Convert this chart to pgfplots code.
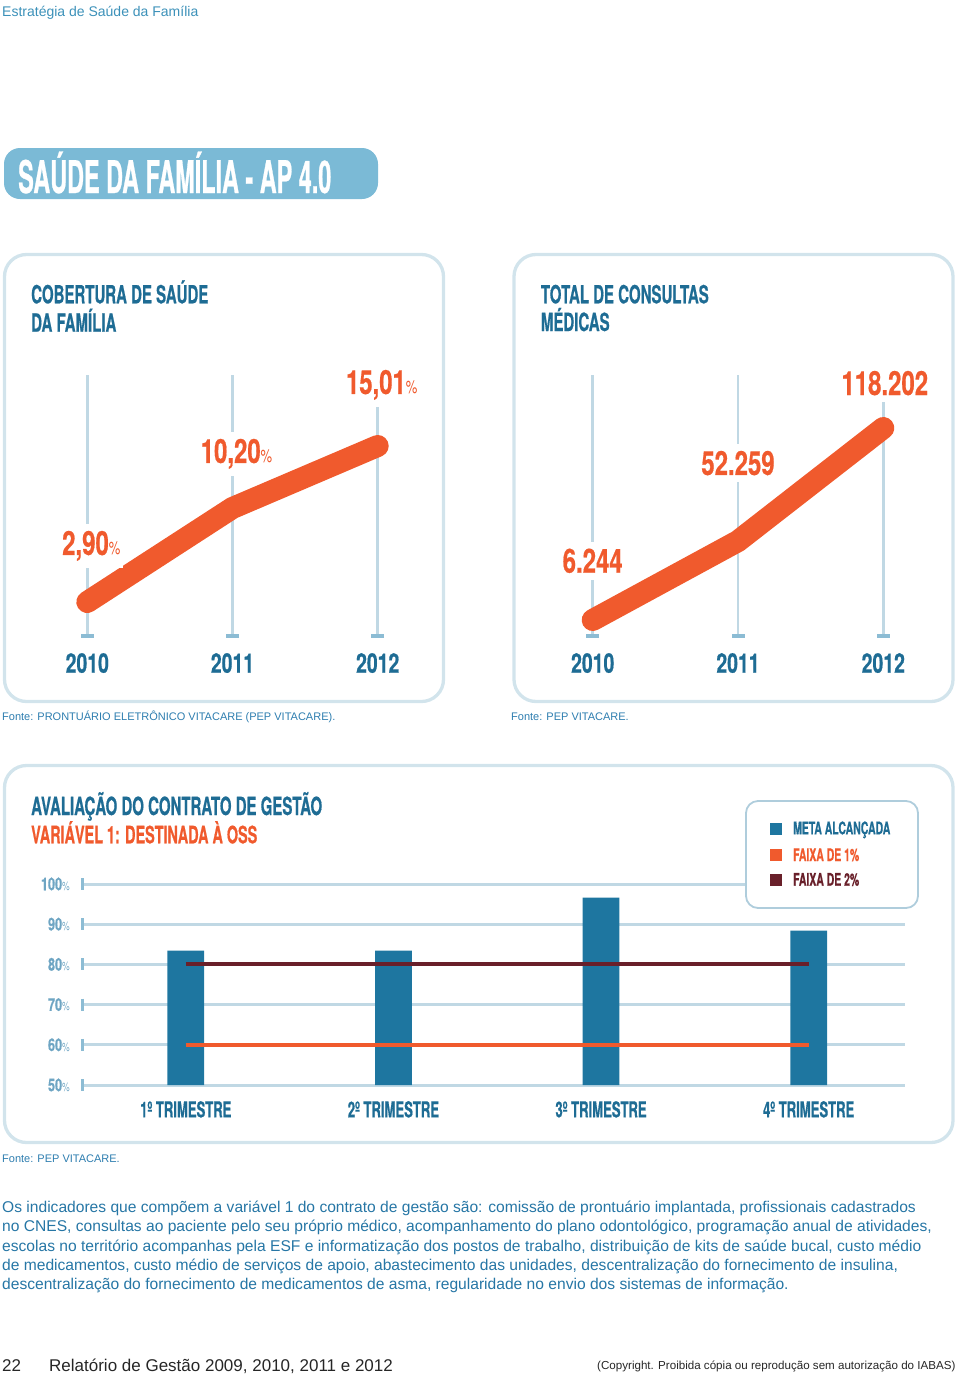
\documentclass[border=0pt]{standalone}
\usepackage{fontspec}
\usepackage{pgfplots}
\pgfplotsset{compat=1.18}
\setmainfont{Liberation Sans}
\newfontfamily\hd{texgyreheros-bold.otf}[FakeStretch=0.6,FakeBold=0.6]
\newfontfamily\hb{texgyreheros-bold.otf}[FakeStretch=0.52,FakeBold=0.6]
\newfontfamily\hn{texgyreheros-bold.otf}[FakeStretch=0.72,FakeBold=0.5]
\newfontfamily\hr{texgyreheros-regular.otf}[FakeStretch=0.72]
\definecolor{orangec}{RGB}{240,90,45}
\definecolor{titleblue}{RGB}{30,108,148}
\definecolor{barblue}{RGB}{30,118,160}
\definecolor{maroon}{RGB}{105,32,42}
\definecolor{gridc}{RGB}{192,216,228}
\definecolor{capc}{RGB}{140,188,212}
\definecolor{boxc}{RGB}{210,228,236}
\definecolor{legc}{RGB}{175,205,220}
\definecolor{bannerc}{RGB}{123,186,214}
\definecolor{lblue}{RGB}{110,165,195}
\definecolor{bodyc}{RGB}{38,118,165}
\definecolor{headc}{RGB}{60,145,185}
\definecolor{fontec}{RGB}{45,125,175}
\newcommand\pct{{\hr\fontsize{18}{18}\selectfont\%}}
\newcommand\spct{{\hr\fontsize{12}{12}\selectfont\%}}
\tikzset{lbl/.style={anchor=base, fill=white, inner xsep=3pt, inner ysep=7pt, font=\hn\fontsize{33.3}{33}\selectfont, text=orangec}}
\begin{document}
\begin{tikzpicture}[x=1pt,y=1pt]
\path[use as bounding box] (0,0) rectangle (960,-1376);
% header
\node[anchor=base west, inner sep=0, font=\fontsize{14}{16}\selectfont, text=headc] at (2,-16) {Estratégia de Saúde da Família};
% banner
\fill[bannerc, rounded corners=16pt] (4,-148) rectangle (378,-199);
\node[anchor=base west, inner sep=0, font=\hb\fontsize{45}{45}\selectfont, text=white] at (18,-193) {SAÚDE DA FAMÍLIA - AP 4.0};
% boxes
\draw[boxc, line width=3.3pt, rounded corners=22pt] (4.5,-254.5) rectangle (443.5,-701.5);
\draw[boxc, line width=3.3pt, rounded corners=22pt] (514,-254.5) rectangle (953,-701.5);
\draw[boxc, line width=3.3pt, rounded corners=22pt] (4.5,-765.5) rectangle (953,-1142.5);
% titles
\node[anchor=base west, inner sep=0, font=\hd\fontsize{25}{25}\selectfont, text=titleblue] at (31,-303.3) {COBERTURA DE SAÚDE};
\node[anchor=base west, inner sep=0, font=\hd\fontsize{25}{25}\selectfont, text=titleblue] at (31,-331.7) {DA FAMÍLIA};
\node[anchor=base west, inner sep=0, font=\hd\fontsize{25}{25}\selectfont, text=titleblue] at (540.7,-303.3) {TOTAL DE CONSULTAS};
\node[anchor=base west, inner sep=0, font=\hd\fontsize{25}{25}\selectfont, text=titleblue] at (540.7,-331) {MÉDICAS};
\node[anchor=base west, inner sep=0, font=\hd\fontsize{25}{25}\selectfont, text=titleblue] at (31,-815) {AVALIAÇÃO DO CONTRATO DE GESTÃO};
\node[anchor=base west, inner sep=0, font=\hd\fontsize{24}{24}\selectfont, text=orangec] at (31,-843.3) {VARIÁVEL 1: DESTINADA À OSS};
% fonte
\node[anchor=base west, inner sep=0, font=\fontsize{11}{13}\selectfont, text=fontec] at (2,-720.5) {Fonte: PRONTUÁRIO ELETRÔNICO VITACARE (PEP VITACARE).};
\node[anchor=base west, inner sep=0, font=\fontsize{11}{13}\selectfont, text=fontec] at (511,-720.5) {Fonte: PEP VITACARE.};
\node[anchor=base west, inner sep=0, font=\fontsize{11}{13}\selectfont, text=fontec] at (2,-1162) {Fonte: PEP VITACARE.};

% ---------- chart 1 ----------
\begin{axis}[
 scale only axis, width=290.4pt, height=261pt,
 at={(87.3pt,-636pt)}, anchor=south west,
 xmin=2010, xmax=2012, ymin=0.26, ymax=20.52,
 clip=false, axis line style={draw=none}, major tick length=0pt,
 xtick={2010,2011,2012}, xticklabels={2010,2011,2012}, ytick=\empty,
 xmajorgrids, major grid style={gridc, line width=2.5pt},
 xticklabel style={font=\hn\fontsize{27}{27}\selectfont, text=titleblue, anchor=base, yshift=-36.7pt, inner sep=0pt},
]
\addplot[only marks, mark=-, mark size=6.5pt, mark options={capc, line width=3.5pt}] coordinates {(2010,0.26)(2011,0.26)(2012,0.26)};
\addplot[orangec, line width=22pt, line cap=round, line join=round] coordinates {(2010,2.90)(2011,10.20)(2012,15.01)};
\node[lbl, xshift=4pt, yshift=47pt] at (axis cs:2010,2.90) {2,90\pct};
\node[lbl, xshift=4pt, yshift=45pt] at (axis cs:2011,10.20) {10,20\pct};
\node[lbl, xshift=4pt, yshift=52pt] at (axis cs:2012,15.01) {15,01\pct};
\end{axis}

% ---------- chart 2 ----------
\begin{axis}[
 scale only axis, width=290.6pt, height=261pt,
 at={(592.7pt,-636pt)}, anchor=south west,
 xmin=2010, xmax=2012, ymin=-3086, ymax=149110,
 clip=false, axis line style={draw=none}, major tick length=0pt,
 xtick={2010,2011,2012}, xticklabels={2010,2011,2012}, ytick=\empty,
 xmajorgrids, major grid style={gridc, line width=2.5pt},
 xticklabel style={font=\hn\fontsize{27}{27}\selectfont, text=titleblue, anchor=base, yshift=-36.7pt, inner sep=0pt},
]
\addplot[only marks, mark=-, mark size=6.5pt, mark options={capc, line width=3.5pt}] coordinates {(2010,-3086)(2011,-3086)(2012,-3086)};
\addplot[orangec, line width=22pt, line cap=round, line join=round] coordinates {(2010,6244)(2011,52259)(2012,118202)};
\node[lbl, yshift=47.3pt] at (axis cs:2010,6244) {6.244};
\node[lbl, yshift=66.1pt] at (axis cs:2011,52259) {52.259};
\node[lbl, xshift=1.5pt, yshift=33pt] at (axis cs:2012,118202) {118.202};
\end{axis}

% ---------- chart 3 ----------
\begin{axis}[
 scale only axis, width=823pt, height=201pt,
 at={(82pt,-1085pt)}, anchor=south west,
 xmin=-0.5, xmax=3.464, ymin=50, ymax=100,
 axis line style={draw=none}, major tick length=0pt,
 xtick={0,1,2,3}, xticklabels={1º TRIMESTRE,2º TRIMESTRE,3º TRIMESTRE,4º TRIMESTRE},
 ytick={50,60,70,80,90,100}, yticklabels={50\spct,60\spct,70\spct,80\spct,90\spct,100\spct},
 ymajorgrids, major grid style={gridc, line width=3pt},
 xticklabel style={font=\hd\fontsize{21.8}{22}\selectfont, text=titleblue, anchor=base, yshift=-32.3pt, inner sep=0pt},
 yticklabel style={font=\hn\fontsize{17.6}{18}\selectfont, text=lblue, anchor=east, inner sep=0pt, xshift=-12pt},
]
\addplot[ybar, bar width=36.7pt, fill=barblue, draw=none] coordinates {(0,83.4)(1,83.4)(2,96.6)(3,88.4)};
\addplot[orangec, line width=4pt] coordinates {(0,60)(3,60)};
\addplot[maroon, line width=4pt] coordinates {(0,80)(3,80)};
\addplot[only marks, mark=|, mark size=6pt, mark options={capc, line width=3pt}] coordinates {(-0.5,50)(-0.5,60)(-0.5,70)(-0.5,80)(-0.5,90)(-0.5,100)};
\end{axis}

% legend
\draw[legc, line width=1.8pt, fill=white, rounded corners=12pt] (746,-801) rectangle (918,-908);
\fill[barblue] (770,-823) rectangle (782,-835);
\fill[orangec] (770,-849) rectangle (782,-861);
\fill[maroon] (770,-874) rectangle (782,-886);
\node[anchor=base west, inner sep=0, font=\hd\fontsize{17.4}{18}\selectfont, text=titleblue] at (793,-834.3) {META ALCANÇADA};
\node[anchor=base west, inner sep=0, font=\hd\fontsize{17.4}{18}\selectfont, text=orangec] at (793,-861) {FAIXA DE 1\%};
\node[anchor=base west, inner sep=0, font=\hd\fontsize{17.4}{18}\selectfont, text=maroon] at (793,-885.7) {FAIXA DE 2\%};

% body text
\begin{scope}[every node/.style={anchor=base west, inner sep=0, font=\fontsize{15.6}{17}\selectfont, text=bodyc}]
\node at (2,-1212) {Os indicadores que compõem a variável 1 do contrato de gestão são: comissão de prontuário implantada, profissionais cadastrados};
\node at (2,-1231.5) {no CNES, consultas ao paciente pelo seu próprio médico, acompanhamento do plano odontológico, programação anual de atividades,};
\node at (2,-1251) {escolas no território acompanhas pela ESF e informatização dos postos de trabalho, distribuição de kits de saúde bucal, custo médio};
\node at (2,-1270) {de medicamentos, custo médio de serviços de apoio, abastecimento das unidades, descentralização do fornecimento de insulina,};
\node at (2,-1289.5) {descentralização do fornecimento de medicamentos de asma, regularidade no envio dos sistemas de informação.};
\end{scope}
% footer
\node[anchor=base west, inner sep=0, font=\fontsize{17}{19}\selectfont, text=black!85] at (2,-1371) {22};
\node[anchor=base west, inner sep=0, font=\fontsize{17}{19}\selectfont, text=black!85] at (49,-1371) {Relatório de Gestão 2009, 2010, 2011 e 2012};
\node[anchor=base west, inner sep=0, font=\fontsize{11.6}{13}\selectfont, text=black!85] at (597,-1369) {(Copyright. Proibida cópia ou reprodução sem autorização do IABAS)};
\end{tikzpicture}
\end{document}
